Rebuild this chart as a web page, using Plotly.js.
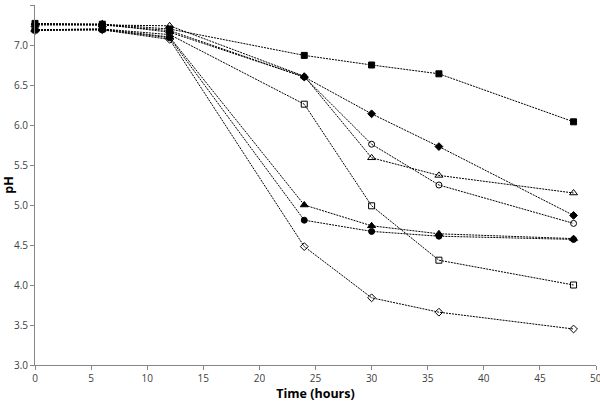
<!DOCTYPE html>
<html>
<head>
<meta charset="utf-8">
<script src="https://cdn.plot.ly/plotly-3.0.1.min.js"></script>
<style>html,body{margin:0;padding:0;background:#fff;}#chart{width:600px;height:402px;}</style>
</head>
<body>
<div id="chart"></div>
<script>
const hours = [0, 6, 12, 24, 30, 36, 48];

const filledSquare   = [7.27, 7.26, 7.20, 6.87, 6.75, 6.64, 6.04];
const filledDiamond  = [7.26, 7.26, 7.16, 6.60, 6.14, 5.73, 4.87];
const openCircle     = [7.26, 7.25, 7.18, 6.60, 5.76, 5.25, 4.77];
const openTriangle   = [7.25, 7.25, 7.24, 6.61, 5.59, 5.37, 5.15];
const openSquare     = [7.19, 7.20, 7.13, 6.26, 4.99, 4.31, 4.00];
const filledTriangle = [7.19, 7.20, 7.10, 5.00, 4.74, 4.64, 4.58];
const filledCircle   = [7.19, 7.19, 7.09, 4.81, 4.67, 4.61, 4.57];
const openDiamond    = [7.18, 7.19, 7.07, 4.48, 3.84, 3.66, 3.45];

const seriesList = [
  {y: filledSquare,   symbol: 'square',        size: 6},
  {y: filledDiamond,  symbol: 'diamond',       size: 6},
  {y: openCircle,     symbol: 'circle-open',   size: 6},
  {y: openTriangle,   symbol: 'triangle-up-open', size: 7},
  {y: openSquare,     symbol: 'square-open',   size: 6},
  {y: filledTriangle, symbol: 'triangle-up',   size: 7},
  {y: filledCircle,   symbol: 'circle',        size: 6},
  {y: openDiamond,    symbol: 'diamond-open',  size: 6}
];

const traces = seriesList.map(s => ({
  x: hours, y: s.y, type: 'scatter', mode: 'lines+markers',
  line: {color: '#000', width: 1, dash: '2px,1px'},
  marker: {symbol: s.symbol, size: s.size, color: '#000', line: {color: '#000', width: 1}},
  showlegend: false, cliponaxis: false
}));

const layout = {
  width: 600, height: 402,
  margin: {l: 35, r: 4, t: 5, b: 37},
  paper_bgcolor: '#fff', plot_bgcolor: '#fff',
  font: {family: 'Open Sans, Liberation Sans, sans-serif', size: 10, color: '#404040'},
  xaxis: {
    range: [0, 50], dtick: 5, tick0: 0,
    showgrid: false, zeroline: false,
    showline: true, linecolor: '#868686', linewidth: 1,
    ticks: 'outside', ticklen: 4, tickcolor: '#868686',
    tickfont: {size: 10, color: '#404040'},
    title: {text: 'Time (hours)', font: {size: 12.5, color: '#000', weight: 'bold'}, standoff: 2}
  },
  yaxis: {
    range: [3.0, 7.5], dtick: 0.5, tick0: 3.0, tickformat: '.1f',
    showgrid: false, zeroline: false,
    showline: true, linecolor: '#868686', linewidth: 1,
    ticks: 'outside', ticklen: 4, tickcolor: '#868686',
    tickfont: {size: 10, color: '#404040'},
    title: {text: 'pH', font: {size: 12.5, color: '#000', weight: 'bold'}, standoff: 0}
  },
  annotations: [{
    text: '50', xref: 'x', x: 50, yref: 'paper', y: 0, yanchor: 'top', xanchor: 'center',
    yshift: -4, showarrow: false, font: {size: 10, color: '#404040'}
  }]
};

Plotly.newPlot('chart', traces, layout, {displayModeBar: false, staticPlot: true});
</script>
</body>
</html>
